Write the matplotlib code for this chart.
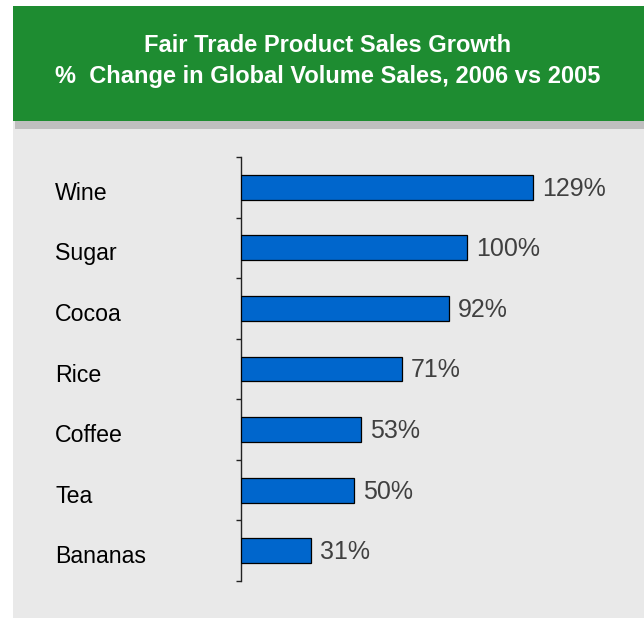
import matplotlib
matplotlib.use("Agg")
import matplotlib.pyplot as plt
from matplotlib.patches import Rectangle
from matplotlib.transforms import blended_transform_factory

plt.rcParams["font.family"] = ["Liberation Sans", "DejaVu Sans"]

# Data
products = ["Wine", "Sugar", "Cocoa", "Rice", "Coffee", "Tea", "Bananas"]
growth_pct = [129, 100, 92, 71, 53, 50, 31]
title_lines = ["Fair Trade Product Sales Growth",
               "%  Change in Global Volume Sales, 2006 vs 2005"]

W, H = 644, 618
DPI = 100
fig = plt.figure(figsize=(W / DPI, H / DPI), dpi=DPI)
fig.patch.set_facecolor("white")


def px_rect(x0, y0, x1, y1, color):
    """Rectangle given in pixel coords (origin top-left)."""
    r = Rectangle((x0 / W, 1 - y1 / H), (x1 - x0) / W, (y1 - y0) / H,
                  transform=fig.transFigure, facecolor=color,
                  edgecolor="none", zorder=-5)
    fig.patches.append(r)


# Background panels
px_rect(13, 121, 644, 618, "#E9E9E9")
px_rect(15, 121, 644, 129, "#BFBFBF")
px_rect(13, 5.5, 644, 121, "#1E8C31")

# Header title
fig.text(328 / W, 1 - 45 / H, title_lines[0], color="white",
         fontsize=17, fontweight="bold", ha="center", va="center")
fig.text(328 / W, 1 - 77 / H, title_lines[1], color="white",
         fontsize=17, fontweight="bold", ha="center", va="center")

# Chart axes
ax_left, ax_right = 241, 580.6
ax_top, ax_bottom = 157, 581
ax = fig.add_axes([ax_left / W, 1 - ax_bottom / H,
                   (ax_right - ax_left) / W, (ax_bottom - ax_top) / H])
ax.set_facecolor("none")
ax.set_zorder(2)

ypos = list(range(len(products)))
bars = ax.barh(ypos, growth_pct, height=0.41, color="#0066CC",
               edgecolor="black", linewidth=0.9, zorder=3)

ax.set_xlim(0, 150)
ax.set_ylim(len(products) - 0.5, -0.5)

for y, v in zip(ypos, growth_pct):
    ax.annotate(f"{v}%", xy=(v, y), xytext=(6.5, -1),
                textcoords="offset points", ha="left", va="center",
                fontsize=18, color="#404040")

# Category labels, left aligned in the panel
trans = blended_transform_factory(fig.transFigure, ax.transData)
for y, name in zip(ypos, products):
    ax.text(55 / W, y + 0.1, name, transform=trans, ha="left",
            va="center", fontsize=16.7, color="black")

# Axis styling: left spine with boundary ticks only
for side in ("top", "right", "bottom"):
    ax.spines[side].set_visible(False)
ax.spines["left"].set_color("#222222")
ax.spines["left"].set_linewidth(1.0)
ax.set_xticks([])
ax.set_yticks([i - 0.5 for i in range(len(products) + 1)])
ax.set_yticklabels([])
ax.tick_params(axis="y", direction="out", length=3.5, width=1.0,
               color="#222222")

fig.savefig("out.png", dpi=DPI, facecolor=fig.get_facecolor())
